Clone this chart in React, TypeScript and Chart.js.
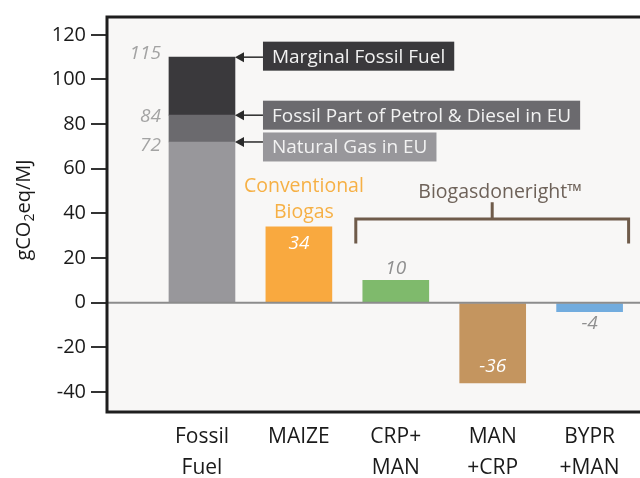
import { useEffect, useRef } from 'react';
import { Chart, registerables } from 'chart.js';

Chart.register(...registerables);

// ---- data ----
const categories: string[][] = [['Fossil', 'Fuel'], ['MAIZE'], ['CRP+', 'MAN'], ['MAN', '+CRP'], ['BYPR', '+MAN']];
const fossilSegments = [72, 12, 26];
const fossilLabels = ['72', '84', '115'];
const fossilNotes = ['Natural Gas in EU', 'Fossil Part of Petrol & Diesel in EU', 'Marginal Fossil Fuel'];
const fossilColors = ['#98979b', '#6b6a6e', '#3a393c'];
const biogasValues = [34, 10, -36, -4];
const biogasLabels = ['34', '10', '-36', '-4'];
const biogasColors = ['#f9a93f', '#7fba6c', '#c4955f', '#72acde'];
const yTicks = [-40, -20, 0, 20, 40, 60, 80, 100, 120];
const yTitleParts = ['gCO', '2', 'eq/MJ'];
const conventionalText = ['Conventional', 'Biogas'];
const bracketText = 'Biogasdoneright™';

const FONT = '"Open Sans", "DejaVu Sans", sans-serif';

const decorPlugin = {
  id: 'decor',
  beforeDraw(chart: any) {
    const { ctx, chartArea: a } = chart;
    ctx.save();
    ctx.fillStyle = '#f8f7f6';
    ctx.fillRect(a.left, a.top, a.right - a.left, a.bottom - a.top);
    ctx.restore();
  },
  afterDatasetsDraw(chart: any) {
    const { ctx, chartArea: a } = chart;
    const ys = chart.scales.y;
    ctx.save();
    // zero line
    const y0 = ys.getPixelForValue(0);
    ctx.strokeStyle = '#8c8c8c';
    ctx.lineWidth = 2;
    ctx.beginPath();
    ctx.moveTo(a.left, y0);
    ctx.lineTo(a.right, y0);
    ctx.stroke();

    // fossil labels, arrows, boxes
    const labelOffsets = [4, 1, -4];
    const boxOffsets = [5, 0, -1];
    for (let i = 0; i < fossilSegments.length; i++) {
      const el: any = chart.getDatasetMeta(i).data[0];
      const left = el.x - el.width / 2;
      const right = el.x + el.width / 2;
      ctx.font = `italic 19px ${FONT}`;
      ctx.fillStyle = '#a3a3a3';
      ctx.textAlign = 'right';
      ctx.textBaseline = 'middle';
      ctx.fillText(fossilLabels[i], left - 8, el.y + labelOffsets[i]);

      const boxLeft = right + 28;
      // arrow
      ctx.strokeStyle = '#2a2a2a';
      ctx.fillStyle = '#2a2a2a';
      ctx.lineWidth = 1.5;
      ctx.beginPath();
      ctx.moveTo(boxLeft, el.y);
      ctx.lineTo(right + 6, el.y);
      ctx.stroke();
      ctx.beginPath();
      ctx.moveTo(right, el.y);
      ctx.lineTo(right + 9, el.y - 5);
      ctx.lineTo(right + 9, el.y + 5);
      ctx.closePath();
      ctx.fill();

      // box
      ctx.font = `19px ${FONT}`;
      const w = ctx.measureText(fossilNotes[i]).width + 18;
      const cy = el.y + boxOffsets[i];
      ctx.fillStyle = fossilColors[i];
      ctx.fillRect(boxLeft, cy - 14.5, w, 29);
      ctx.fillStyle = '#f2f2f2';
      ctx.textAlign = 'left';
      ctx.textBaseline = 'middle';
      ctx.fillText(fossilNotes[i], boxLeft + 9, cy + 1);
    }

    // biogas value labels
    const meta = chart.getDatasetMeta(fossilSegments.length);
    meta.data.forEach((el: any, i: number) => {
      const v = biogasValues[i];
      const inside = Math.abs(v) >= 20;
      let y;
      if (v >= 0) y = inside ? el.y + 17 : el.y - 12;
      else y = inside ? el.y - 16 : el.y + 12;
      ctx.font = `italic 19px ${FONT}`;
      ctx.fillStyle = inside ? '#ffffff' : '#8f8f8f';
      ctx.textAlign = 'center';
      ctx.textBaseline = 'middle';
      ctx.fillText(biogasLabels[i], el.x, y);
    });

    // conventional biogas label
    const m0: any = meta.data[0];
    ctx.font = `19.5px ${FONT}`;
    ctx.fillStyle = '#f6b045';
    ctx.fillText(conventionalText[0], m0.x + 5, m0.y - 40);
    ctx.fillText(conventionalText[1], m0.x + 5, m0.y - 14);

    // bracket
    const first: any = meta.data[1];
    const last: any = meta.data[meta.data.length - 1];
    const bl = first.x - first.width / 2 - 7;
    const br = last.x + last.width / 2 + 6;
    const by = ys.getPixelForValue(37.5);
    const bEnd = ys.getPixelForValue(26.5);
    const stemTop = ys.getPixelForValue(45);
    const mid = (bl + br) / 2;
    ctx.strokeStyle = '#6f5b4a';
    ctx.lineWidth = 3;
    ctx.beginPath();
    ctx.moveTo(bl, bEnd);
    ctx.lineTo(bl, by);
    ctx.lineTo(br, by);
    ctx.lineTo(br, bEnd);
    ctx.moveTo(mid, by);
    ctx.lineTo(mid, stemTop);
    ctx.stroke();
    ctx.font = `19.5px ${FONT}`;
    ctx.fillStyle = '#6e6259';
    ctx.textAlign = 'center';
    ctx.fillText(bracketText, mid + 8, ys.getPixelForValue(49.5));
    ctx.restore();
  },
  afterDraw(chart: any) {
    const { ctx, chartArea: a } = chart;
    ctx.save();
    // frame
    ctx.strokeStyle = '#1e1e1e';
    ctx.lineWidth = 3;
    ctx.beginPath();
    ctx.moveTo(a.right + 5, a.top);
    ctx.lineTo(a.left, a.top);
    ctx.lineTo(a.left, a.bottom);
    ctx.lineTo(a.right + 5, a.bottom);
    ctx.stroke();

    // y title with subscript
    ctx.translate(24, 210);
    ctx.rotate(-Math.PI / 2);
    ctx.fillStyle = '#1a1a1a';
    ctx.textBaseline = 'middle';
    ctx.textAlign = 'left';
    const big = `20px ${FONT}`;
    const small = `14px ${FONT}`;
    ctx.font = big;
    const w0 = ctx.measureText(yTitleParts[0]).width;
    const w2 = ctx.measureText(yTitleParts[2]).width;
    ctx.font = small;
    const w1 = ctx.measureText(yTitleParts[1]).width;
    let x = -(w0 + w1 + w2) / 2;
    ctx.font = big;
    ctx.fillText(yTitleParts[0], x, 0);
    x += w0;
    ctx.font = small;
    ctx.fillText(yTitleParts[1], x, 6);
    x += w1;
    ctx.font = big;
    ctx.fillText(yTitleParts[2], x, 0);
    ctx.restore();
  },
};

export default function App() {
  const ref = useRef<HTMLCanvasElement | null>(null);
  useEffect(() => {
    if (!ref.current) return;
    const datasets: any[] = fossilSegments.map((v, i) => ({
      data: [{ x: 0, y: v }],
      backgroundColor: fossilColors[i],
      stack: 's',
      barThickness: 66,
    }));
    datasets.push({
      data: biogasValues.map((v, i) => ({ x: i + 1, y: v })),
      backgroundColor: biogasColors,
      stack: 's',
      barThickness: 66,
    });
    const chart = new Chart(ref.current, {
      type: 'bar',
      data: { datasets },
      plugins: [decorPlugin],
      options: {
        responsive: false,
        animation: false,
        devicePixelRatio: 1,
        layout: { padding: { top: 13, right: 0, left: 0, bottom: 0 } },
        plugins: { legend: { display: false }, tooltip: { enabled: false } },
        scales: {
          x: {
            type: 'linear',
            min: -0.98,
            max: 4.52,
            offset: false,
            stacked: true,
            grid: { display: false, drawTicks: false, offset: false },
            border: { display: false },
            afterFit: (s: any) => { s.height = 66; },
            afterBuildTicks: (s: any) => { s.ticks = categories.map((_, i) => ({ value: i })); },
            ticks: {
              autoSkip: false,
              maxRotation: 0,
              padding: 9,
              color: '#1a1a1a',
              font: { family: FONT, size: 21, lineHeight: 1.5 },
              callback: (v: any) => categories[v as number] ?? '',
            },
          },
          y: {
            min: -49,
            max: 128,
            stacked: true,
            afterFit: (s: any) => { s.width = 107; },
            afterBuildTicks: (s: any) => { s.ticks = yTicks.map((v) => ({ value: v })); },
            grid: { drawOnChartArea: false, drawTicks: true, tickLength: 16, color: '#333333', lineWidth: 2 },
            border: { display: false },
            ticks: { color: '#1a1a1a', padding: 5, font: { family: FONT, size: 20 } },
          },
        },
      } as any,
    });
    return () => chart.destroy();
  }, []);
  return (
    <div style={{ position: 'fixed', left: 0, top: 0, width: 640, height: 478, overflow: 'hidden', background: '#fff' }}>
      <canvas ref={ref} width={640} height={478} style={{ display: 'block' }} />
    </div>
  );
}
